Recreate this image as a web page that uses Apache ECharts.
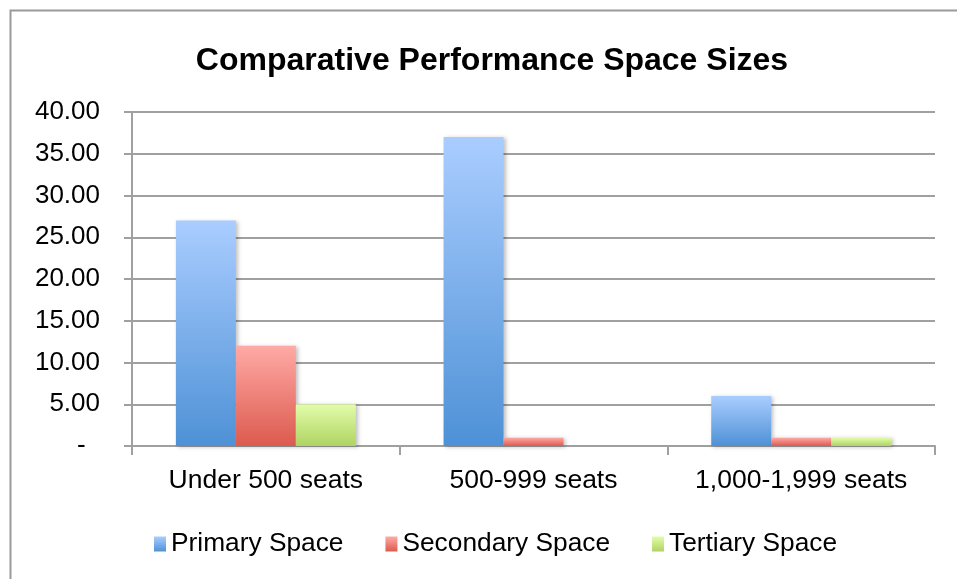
<!DOCTYPE html>
<html>
<head>
<meta charset="utf-8">
<script src="https://cdn.jsdelivr.net/npm/echarts@6/dist/echarts.min.js"></script>
<style>
  html, body { margin: 0; padding: 0; background: #fff; }
  #box { width: 957px; height: 579px; }
</style>
</head>
<body>
<div id="box"></div>
<script>
// 数据
var categories = ['Under 500 seats', '500-999 seats', '1,000-1,999 seats'];
var primarySpace = [27, 37, 6];
var secondarySpace = [12, 1, 1];
var tertiarySpace = [5, 0, 1];
var seriesNames = ['Primary Space', 'Secondary Space', 'Tertiary Space'];

var myChart = echarts.init(document.getElementById('box'));

// 渐变色，上浅下深
function grad(top, bottom) {
    return new echarts.graphic.LinearGradient(0, 0, 0, 1, [
        { offset: 0, color: top },
        { offset: 1, color: bottom }
    ]);
}

var font = 'Liberation Sans, Arial, sans-serif';
var gridColor = '#a0a0a0';

function barSeries(name, data, top, bottom) {
    return {
        name: name,
        type: 'bar',
        data: data,
        barGap: '0%',
        barCategoryGap: '32.8%',
        itemStyle: {
            color: grad(top, bottom),
            shadowColor: 'rgba(0,0,0,0.25)',
            shadowBlur: 4,
            shadowOffsetX: 2,
            shadowOffsetY: 1
        }
    };
}

var option = {
    animation: false,
    // 外框
    graphic: [{
        type: 'rect',
        left: 8,
        top: 8,
        shape: { width: 1000, height: 620 },
        style: { fill: 'none', stroke: '#9a9a9a', lineWidth: 2 }
    }],
    title: {
        text: 'Comparative Performance Space Sizes',
        left: 487,
        top: 40,
        textAlign: 'center',
        textStyle: {
            fontFamily: font,
            fontWeight: 'bold',
            fontSize: 32,
            color: '#000'
        }
    },
    legend: {
        data: seriesNames,
        left: 149,
        top: 526,
        icon: 'rect',
        itemWidth: 12,
        itemHeight: 15,
        itemGap: 42,
        textStyle: { fontFamily: font, fontSize: 26.3, color: '#000' }
    },
    grid: {
        left: 132,
        right: 22,
        top: 112,
        bottom: 133
    },
    xAxis: {
        type: 'category',
        data: categories,
        axisLine: { lineStyle: { color: gridColor, width: 2 } },
        axisTick: { show: true, length: 9, lineStyle: { color: gridColor, width: 2 } },
        axisLabel: { interval: 0, fontFamily: font, fontSize: 26.5, color: '#000', margin: 21 }
    },
    yAxis: {
        type: 'value',
        min: 0,
        max: 40,
        interval: 5,
        axisLine: { show: true, lineStyle: { color: gridColor, width: 2 } },
        axisTick: { show: true, length: 8, lineStyle: { color: gridColor, width: 2 } },
        splitLine: { lineStyle: { color: gridColor, width: 2 } },
        axisLabel: {
            fontFamily: font,
            fontSize: 26,
            color: '#000',
            margin: 32,
            formatter: function (v) {
                return v === 0 ? '-  ' : v.toFixed(2);
            }
        }
    },
    series: [
        barSeries(seriesNames[0], primarySpace, '#aacdff', '#4e91d6'),
        barSeries(seriesNames[1], secondarySpace, '#ffaaa6', '#dc5a4e'),
        barSeries(seriesNames[2], tertiarySpace, '#e2fdaa', '#afd363')
    ]
};

myChart.setOption(option);
</script>
</body>
</html>
